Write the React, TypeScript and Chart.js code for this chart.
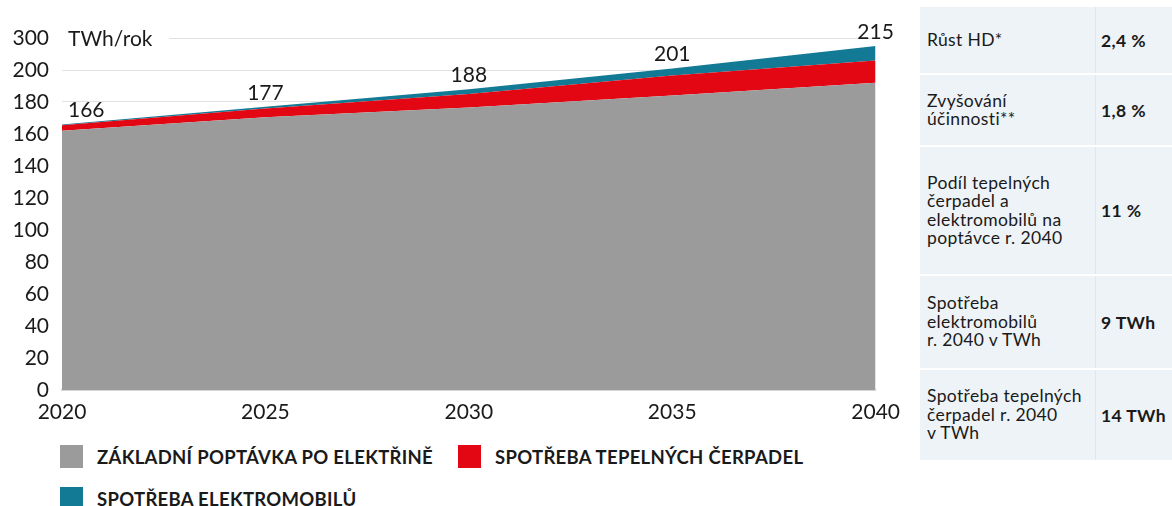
import React, { useEffect, useRef } from "react";
import { Chart, registerables } from "chart.js";

Chart.register(...registerables);

const years = ["2020", "2025", "2030", "2035", "2040"];
const baseDemand = [162, 170.5, 176.5, 184, 192];
const heatPumps = [3.5, 5.5, 8.5, 12.5, 14];
const electricCars = [0.5, 1, 3, 4.5, 9];
const totalLabels = ["166", "177", "188", "201", "215"];
const yTopTickLabel = "300";
const unitLabel = "TWh/rok";

const seriesNames = [
  "ZÁKLADNÍ POPTÁVKA PO ELEKTŘINĚ",
  "SPOTŘEBA TEPELNÝCH ČERPADEL",
  "SPOTŘEBA ELEKTROMOBILŮ",
];
const seriesColors = ["#9b9b9b", "#e30613", "#137a96"];

const tableLabels = [
  ["Růst HD*"],
  ["Zvyšování", "účinnosti**"],
  ["Podíl tepelných", "čerpadel a", "elektromobilů na", "poptávce r. 2040"],
  ["Spotřeba", "elektromobilů", "r. 2040 v TWh"],
  ["Spotřeba tepelných", "čerpadel r. 2040", "v TWh"],
];
const tableValues = ["2,4 %", "1,8 %", "11 %", "9 TWh", "14 TWh"];
const tableRowHeights = [68, 72, 129, 94, 92];

const FONT = "Lato, 'Noto Sans', sans-serif";

export default function App() {
  const canvasRef = useRef<HTMLCanvasElement | null>(null);

  useEffect(() => {
    const ctx = canvasRef.current!.getContext("2d")!;
    const overlay = {
      id: "overlay",
      afterDatasetsDraw(chart: any) {
        const c = chart.ctx;
        const xs = chart.scales.x;
        const ys = chart.scales.y;
        c.save();
        c.font = `21px ${FONT}`;
        c.fillStyle = "#1a1a1a";
        c.textBaseline = "middle";
        years.forEach((_, i) => {
          const total = baseDemand[i] + heatPumps[i] + electricCars[i];
          const x = xs.getPixelForValue(i);
          const y = ys.getPixelForValue(total) - 14;
          if (i === 0) {
            c.textAlign = "left";
            c.fillText(totalLabels[i], x + 6, y);
          } else {
            c.textAlign = "center";
            c.fillText(totalLabels[i], x, y);
          }
        });
        const yTop = ys.getPixelForValue(220);
        c.fillStyle = "#ffffff";
        c.fillRect(chart.chartArea.left - 1, yTop - 12, 108, 24);
        c.fillStyle = "#1a1a1a";
        c.textAlign = "left";
        c.fillText(unitLabel, chart.chartArea.left + 6, yTop + 1);
        c.restore();
      },
    };

    const chart = new Chart(ctx, {
      type: "line",
      data: {
        labels: years,
        datasets: [
          {
            label: seriesNames[0],
            data: baseDemand,
            backgroundColor: seriesColors[0],
            borderColor: seriesColors[0],
            borderWidth: 0,
            fill: "origin",
            pointRadius: 0,
            tension: 0,
          },
          {
            label: seriesNames[1],
            data: heatPumps,
            backgroundColor: seriesColors[1],
            borderColor: seriesColors[1],
            borderWidth: 0,
            fill: "-1",
            pointRadius: 0,
            tension: 0,
          },
          {
            label: seriesNames[2],
            data: electricCars,
            backgroundColor: seriesColors[2],
            borderColor: seriesColors[2],
            borderWidth: 0,
            fill: "-1",
            pointRadius: 0,
            tension: 0,
          },
        ],
      },
      options: {
        animation: false,
        responsive: false,
        layout: { padding: { top: 38, right: 28, left: 0, bottom: 0 } },
        plugins: {
          legend: { display: false },
          tooltip: { enabled: false },
        },
        scales: {
          x: {
            type: "category",
            offset: false,
            grid: { display: false, drawTicks: false },
            border: { display: true, color: "#d6d6d6", width: 2 },
            ticks: {
              color: "#1a1a1a",
              font: { family: FONT, size: 21 },
              padding: 10,
              maxRotation: 0,
              autoSkip: false,
            },
            afterFit(scale: any) {
              scale.height = 40;
            },
          },
          y: {
            stacked: true,
            min: 0,
            max: 220,
            grid: { color: "#e2e2e2", drawTicks: false, lineWidth: 1 },
            border: { display: false },
            ticks: {
              stepSize: 20,
              color: "#1a1a1a",
              font: { family: FONT, size: 21 },
              padding: 13,
              callback: (v: any) => (v === 220 ? yTopTickLabel : String(v)),
            },
            afterFit(scale: any) {
              scale.width = 62;
            },
          },
        },
      },
      plugins: [overlay],
    });
    return () => chart.destroy();
  }, []);

  const legendItems = [
    { left: 60, top: 445 },
    { left: 458, top: 445 },
    { left: 60, top: 487 },
  ];

  return (
    <div
      style={{
        position: "fixed",
        left: 0,
        top: 0,
        width: 1172,
        height: 506,
        background: "#ffffff",
        overflow: "hidden",
        fontFamily: FONT,
        color: "#1a1a1a",
      }}
    >
      <canvas
        ref={canvasRef}
        width={910}
        height={430}
        style={{ position: "absolute", left: 0, top: 0, width: 910, height: 430 }}
      />
      {legendItems.map((it, i) => (
        <div
          key={i}
          style={{
            position: "absolute",
            left: it.left,
            top: it.top,
            height: 23,
            display: "flex",
            alignItems: "center",
            whiteSpace: "nowrap",
          }}
        >
          <div style={{ width: 23, height: 23, background: seriesColors[i], marginRight: 14 }} />
          <span style={{ fontWeight: 700, fontSize: 18.5, letterSpacing: 0.3 }}>{seriesNames[i]}</span>
        </div>
      ))}
      <div style={{ position: "absolute", left: 920, top: 7, width: 252 }}>
        {tableLabels.map((lines, i) => (
          <div
            key={i}
            style={{
              display: "flex",
              height: tableRowHeights[i] - 2,
              marginBottom: 2,
              background: "#eef3f7",
            }}
          >
            <div
              style={{
                width: 176,
                borderRight: "1px solid #dfe7ee",
                display: "flex",
                flexDirection: "column",
                justifyContent: "center",
                paddingLeft: 7,
                fontSize: 17.5,
                letterSpacing: 0.35,
                lineHeight: "18.5px",
                boxSizing: "border-box",
                whiteSpace: "nowrap",
              }}
            >
              {lines.map((l, j) => (
                <div key={j}>{l}</div>
              ))}
            </div>
            <div
              style={{
                flex: 1,
                display: "flex",
                alignItems: "center",
                paddingLeft: 5,
                fontWeight: 700,
                fontSize: 17.5,
                letterSpacing: 0.4,
                whiteSpace: "nowrap",
              }}
            >
              {tableValues[i]}
            </div>
          </div>
        ))}
      </div>
    </div>
  );
}
